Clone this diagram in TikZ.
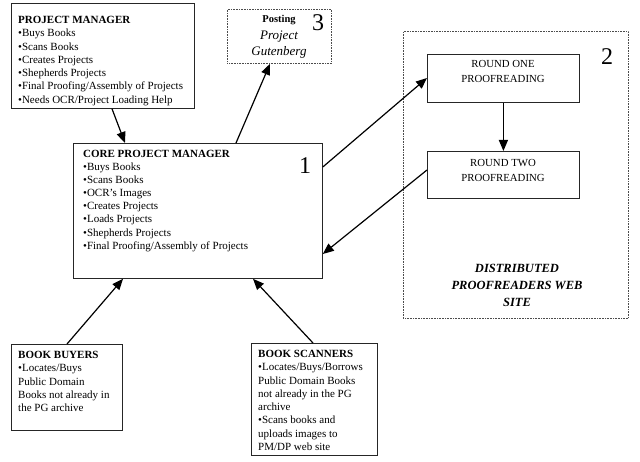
\documentclass[tikz,border=0pt]{standalone}
\usepackage{fontspec}
\setmainfont{Liberation Serif}
\usetikzlibrary{arrows.meta,calc}
\begin{document}
\begin{tikzpicture}[x=1pt,y=-1pt,
  box/.style={draw=black!85, line width=0.8pt, inner sep=0pt, anchor=north west},
  dotbox/.style={draw=black!70, dash pattern=on 0.8pt off 0.8pt, line width=0.8pt, inner sep=0pt, anchor=north west},
  txt/.style={inner sep=0pt, anchor=north west, align=left, font=\fontsize{11}{13.3}\selectfont},
  ctxt/.style={inner sep=0pt, align=center, font=\fontsize{10.8}{15}\selectfont},
  num/.style={inner sep=0pt, font=\fontsize{24}{24}\selectfont},
  arr/.style={-{Triangle[length=11pt,width=9pt]}, line width=1.2pt},
]
\useasboundingbox (0,0) rectangle (640,462);
% boxes
\node[box, minimum width=183pt, minimum height=105pt] (pm) at (11,3) {};
\node[dotbox, minimum width=104pt, minimum height=54pt] (post) at (227,9) {};
\node[box, minimum width=249pt, minimum height=135pt] (core) at (73,143) {};
\node[dotbox, minimum width=225pt, minimum height=287pt] (dp) at (403,31) {};
\node[box, minimum width=152pt, minimum height=48pt] (r1) at (427,54) {};
\node[box, minimum width=152pt, minimum height=47pt] (r2) at (427,151) {};
\node[box, minimum width=111pt, minimum height=86pt] (buy) at (11,344) {};
\node[box, minimum width=126pt, minimum height=112pt] (scan) at (251,343) {};
% texts
\node[txt] (pmt) at (18,16) {\textbf{PROJECT MANAGER}\\
  \textbullet Buys Books\\
  \textbullet Scans Books\\
  \textbullet Creates Projects\\
  \textbullet Shepherds Projects\\
  \textbullet Final Proofing/Assembly of Projects\\
  \textbullet Needs OCR/Project Loading Help};
\node[txt, font=\fontsize{11}{13.1}\selectfont] (coret) at (83,150) {\textbf{CORE PROJECT MANAGER}\\
  \textbullet Buys Books\\
  \textbullet Scans Books\\
  \textbullet OCR’s Images\\
  \textbullet Creates Projects\\
  \textbullet Loads Projects\\
  \textbullet Shepherds Projects\\
  \textbullet Final Proofing/Assembly of Projects};
\node[txt] (buyt) at (18,351) {\textbf{BOOK BUYERS}\\
  \textbullet Locates/Buys\\
  Public Domain\\
  Books not already in\\
  the PG archive};
\node[txt] (scant) at (258,350) {\textbf{BOOK SCANNERS}\\
  \textbullet Locates/Buys/Borrows\\
  Public Domain Books\\
  not already in the PG\\
  archive\\
  \textbullet Scans books and\\
  uploads images to\\
  PM/DP web site};
\node[ctxt] (r1t) at (503,71) {ROUND ONE\\PROOFREADING};
\node[ctxt] (r2t) at (503,170) {ROUND TWO\\PROOFREADING};
\node[ctxt, font=\fontsize{12.5}{17}\selectfont\bfseries\itshape] (dpt) at (517,285) {DISTRIBUTED\\PROOFREADERS WEB\\SITE};
\node[ctxt, font=\fontsize{13}{16.5}\selectfont\itshape] (postt) at (279,37) {{\fontsize{10.5}{10}\selectfont\bfseries\upshape Posting}\\Project\\Gutenberg};
\node[num] (n1) at (305,166) {1};
\node[num] (n2) at (607,57) {2};
\node[num] (n3) at (318,23) {3};
% connectors
\draw[arr] ($(pm.south west)+(101,0)$) -- ($(core.north west)+(52,0)$);
\draw[arr] ($(core.north west)+(163,0)$) -- ($(post.south west)+(43,0)$);
\draw[arr] ($(core.north east)+(0,24)$) -- ($(r1.north west)+(0,24)$);
\draw[arr] (r1.south) -- (r2.north);
\draw[arr] ($(r2.north west)+(0,19)$) -- ($(core.north east)+(0,111)$);
\draw[arr] ($(buy.north west)+(56,0)$) -- ($(core.south west)+(50,0)$);
\draw[arr] ($(scan.north west)+(62,0)$) -- ($(core.south west)+(180,0)$);
\end{tikzpicture}
\end{document}
